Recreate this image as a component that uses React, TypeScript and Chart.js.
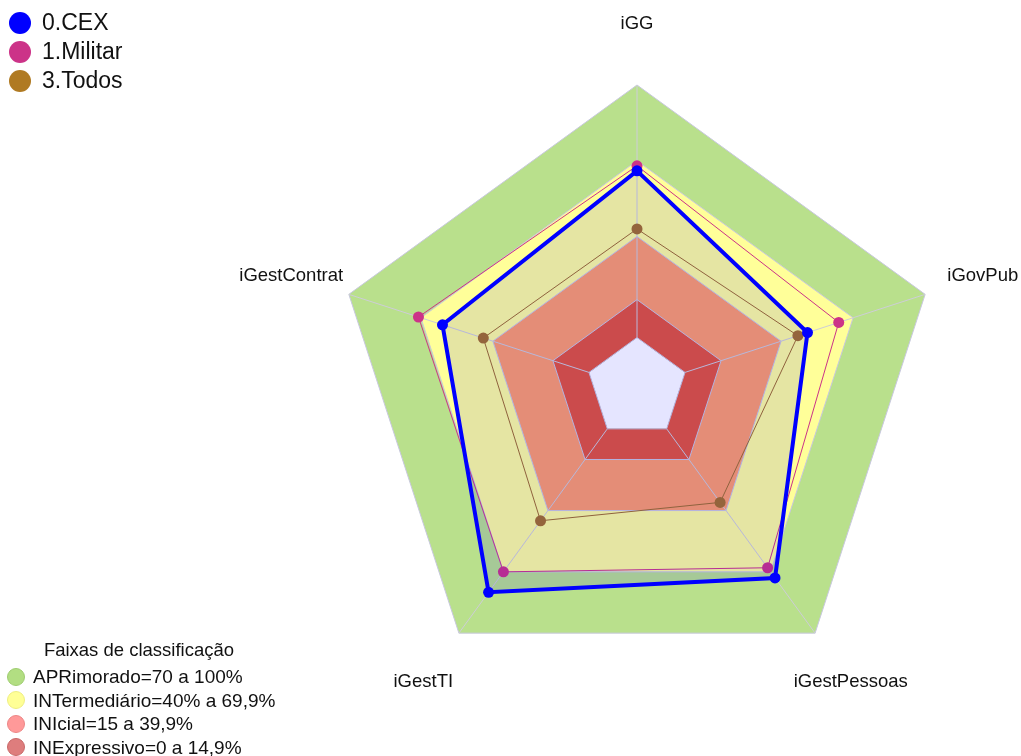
import React, { useEffect, useRef } from "react";
import { Chart, registerables } from "chart.js";

Chart.register(...registerables);

// ---------- data ----------
const axes = ["iGG", "iGovPub", "iGestPessoas", "iGestTI", "iGestContrat"];
const cexValues = [66, 51, 73, 80, 61];
const militarValues = [68, 64, 68, 70, 71];
const todosValues = [43, 47, 36, 45, 44];
const seriesNames = ["0.CEX", "1.Militar", "3.Todos"];
const seriesColors = ["rgb(0,0,255)", "rgb(204,51,136)", "rgb(176,122,34)"];

const bandLevels = [0, 15, 40, 70, 100];
const bandFills = ["rgba(0,0,0,0)", "rgb(227,84,56)", "rgb(254,158,104)", "rgb(255,255,153)", "rgb(185,224,140)"];
const bandLegendNames = [
  "APRimorado=70 a 100%",
  "INTermediário=40% a 69,9%",
  "INIcial=15 a 39,9%",
  "INExpressivo=0 a 14,9%",
];
const bandLegendColors = [
  ["rgb(178,222,130)", "rgb(158,204,112)"],
  ["rgb(255,255,150)", "rgb(238,238,130)"],
  ["rgb(255,153,153)", "rgb(236,134,134)"],
  ["rgb(222,125,125)", "rgb(200,104,104)"],
];
const scaleMin = -20;
const scaleMax = 100;
const FONT = "Arial, 'Liberation Sans', Helvetica, sans-serif";

const spokePlugin = {
  id: "spokes",
  afterDatasetDraw(chart: any, args: any) {
    if (args.index !== 3) return;
    const s = chart.scales.r;
    const ctx = chart.ctx;
    ctx.save();
    ctx.strokeStyle = "rgb(205,205,215)";
    ctx.lineWidth = 1;
    for (let i = 0; i < axes.length; i++) {
      const a = s.getPointPositionForValue(i, 0);
      const b = s.getPointPositionForValue(i, scaleMax);
      ctx.beginPath();
      ctx.moveTo(a.x, a.y);
      ctx.lineTo(b.x, b.y);
      ctx.stroke();
    }
    ctx.restore();
  },
};

const labelPlugin = {
  id: "axisLabels",
  afterDraw(chart: any) {
    const s = chart.scales.r;
    const ctx = chart.ctx;
    ctx.save();
    ctx.font = `18.5px ${FONT}`;
    ctx.fillStyle = "#111";
    ctx.textAlign = "center";
    ctx.textBaseline = "middle";
    for (let i = 0; i < axes.length; i++) {
      const p = s.getPointPosition(i, s.drawingArea * 1.2);
      ctx.fillText(axes[i], p.x, p.y);
    }
    ctx.restore();
  },
};

export default function App() {
  const ref = useRef<HTMLCanvasElement>(null);

  useEffect(() => {
    if (!ref.current) return;
    const bandDatasets = bandLevels.map((lvl, i) => ({
      label: "band" + lvl,
      data: axes.map(() => lvl),
      borderColor: "rgb(200,200,222)",
      borderWidth: 1,
      backgroundColor: bandFills[i],
      fill: i === 0 ? false : "origin",
      pointRadius: 0,
      pointHoverRadius: 0,
    }));
    const chart = new Chart(ref.current, {
      type: "radar",
      data: {
        labels: axes,
        datasets: [
          {
            label: seriesNames[0],
            data: cexValues,
            borderColor: seriesColors[0],
            backgroundColor: "rgba(0,0,255,0.1)",
            borderWidth: 4,
            fill: "start",
            pointRadius: 5.5,
            pointBackgroundColor: seriesColors[0],
            pointBorderColor: seriesColors[0],
            pointBorderWidth: 0,
          },
          {
            label: seriesNames[1],
            data: militarValues,
            borderColor: seriesColors[1],
            borderWidth: 1,
            fill: false,
            pointRadius: 5.5,
            pointBackgroundColor: seriesColors[1],
            pointBorderColor: seriesColors[1],
            pointBorderWidth: 0,
          },
          {
            label: seriesNames[2],
            data: todosValues,
            borderColor: "rgb(160,110,40)",
            borderWidth: 1,
            fill: false,
            pointRadius: 5.5,
            pointBackgroundColor: "rgb(165,112,38)",
            pointBorderColor: "rgb(165,112,38)",
            pointBorderWidth: 0,
          },
          ...bandDatasets,
        ],
      },
      options: {
        responsive: false,
        animation: false,
        devicePixelRatio: 1,
        layout: { padding: { left: 334, right: 81, top: 85, bottom: 65 } },
        plugins: { legend: { display: false }, tooltip: { enabled: false } },
        elements: { line: { tension: 0 } },
        scales: {
          r: {
            min: scaleMin,
            max: scaleMax,
            ticks: { display: false },
            grid: { display: false },
            angleLines: { display: false },
            pointLabels: { display: false },
          },
        },
      },
      plugins: [spokePlugin, labelPlugin],
    } as any);
    return () => chart.destroy();
  }, []);

  return (
    <div style={{ position: "absolute", left: 0, top: 0, width: 1021, height: 756, fontFamily: FONT, color: "#111" }}>
      <canvas ref={ref} width={1021} height={756} style={{ position: "absolute", left: 0, top: 0 }} />
      <div style={{ position: "absolute", left: 9, top: 8 }}>
        {seriesNames.map((n, i) => (
          <div key={n} style={{ display: "flex", alignItems: "center", height: 29 }}>
            <span style={{ width: 22, height: 22, borderRadius: "50%", background: seriesColors[i], display: "inline-block", marginRight: 11 }} />
            <span style={{ fontSize: 23, lineHeight: "29px" }}>{n}</span>
          </div>
        ))}
      </div>
      <div style={{ position: "absolute", left: 39, top: 638, width: 200, textAlign: "center", fontSize: 18.5, lineHeight: "24px", whiteSpace: "nowrap" }}>
        Faixas de classificação
      </div>
      <div style={{ position: "absolute", left: 7, top: 665 }}>
        {bandLegendNames.map((n, i) => (
          <div key={n} style={{ display: "flex", alignItems: "center", height: 23.5 }}>
            <span style={{ width: 16, height: 16, borderRadius: "50%", background: bandLegendColors[i][0], border: `1px solid ${bandLegendColors[i][1]}`, display: "inline-block", marginRight: 8 }} />
            <span style={{ fontSize: 19, lineHeight: "23.5px", whiteSpace: "nowrap" }}>{n}</span>
          </div>
        ))}
      </div>
    </div>
  );
}
